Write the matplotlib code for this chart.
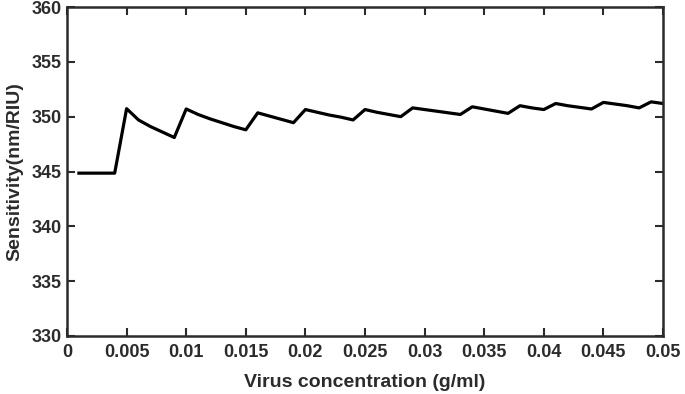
import matplotlib
matplotlib.use("Agg")
import matplotlib.pyplot as plt

concentration = [0.001, 0.002, 0.003, 0.004,
                 0.005, 0.006, 0.007, 0.008, 0.009,
                 0.010, 0.011, 0.012, 0.013, 0.014, 0.015,
                 0.016, 0.017, 0.018, 0.019,
                 0.020, 0.021, 0.022, 0.023, 0.024,
                 0.025, 0.026, 0.027, 0.028,
                 0.029, 0.030, 0.031, 0.032, 0.033,
                 0.034, 0.035, 0.036, 0.037,
                 0.038, 0.039, 0.040,
                 0.041, 0.042, 0.043, 0.044,
                 0.045, 0.046, 0.047, 0.048,
                 0.049, 0.050]
sensitivity = [344.85, 344.85, 344.85, 344.85,
               350.73, 349.7, 349.1, 348.6, 348.1,
               350.7, 350.2, 349.8, 349.45, 349.1, 348.8,
               350.35, 350.05, 349.75, 349.45,
               350.65, 350.4, 350.15, 349.95, 349.7,
               350.65, 350.4, 350.2, 350.0,
               350.8, 350.65, 350.5, 350.35, 350.2,
               350.9, 350.7, 350.5, 350.3,
               351.0, 350.8, 350.65,
               351.2, 351.0, 350.85, 350.7,
               351.3, 351.15, 351.0, 350.8,
               351.35, 351.2]

xticks = [0, 0.005, 0.01, 0.015, 0.02, 0.025, 0.03, 0.035, 0.04, 0.045, 0.05]
xticklabels = ["0", "0.005", "0.01", "0.015", "0.02", "0.025", "0.03", "0.035", "0.04", "0.045", "0.05"]
yticks = [330, 335, 340, 345, 350, 355, 360]

plt.rcParams['font.family'] = ['Liberation Sans', 'DejaVu Sans']
plt.rcParams['font.weight'] = 'bold'

txt_color = '#2b2b2b'

fig = plt.figure(figsize=(6.85, 3.94), dpi=100)
ax = fig.add_axes([67/685, 1 - 336/394, (663-67)/685, (336-7)/394])

ax.plot(concentration, sensitivity, color='black', linewidth=2.3)

ax.set_xlim(0, 0.05)
ax.set_ylim(330, 360)
ax.set_xticks(xticks)
ax.set_xticklabels(xticklabels)
ax.set_yticks(yticks)

for s in ax.spines.values():
    s.set_linewidth(1.8)
    s.set_color('#2b2b2b')
ax.tick_params(direction='in', length=5.5, width=1.5, top=True, right=True,
               labelsize=13, colors='#2b2b2b')
ax.tick_params(axis='x', pad=6)
ax.tick_params(axis='y', pad=4)
for lbl in ax.get_xticklabels() + ax.get_yticklabels():
    lbl.set_fontweight('bold')
    lbl.set_color(txt_color)

ax.set_xlabel('Virus concentration (g/ml)', fontsize=14, fontweight='bold',
              labelpad=9, color=txt_color)
ax.set_ylabel('Sensitivity(nm/RIU)', fontsize=14, fontweight='bold',
              labelpad=6, color=txt_color)

fig.savefig('out.png', dpi=100)
